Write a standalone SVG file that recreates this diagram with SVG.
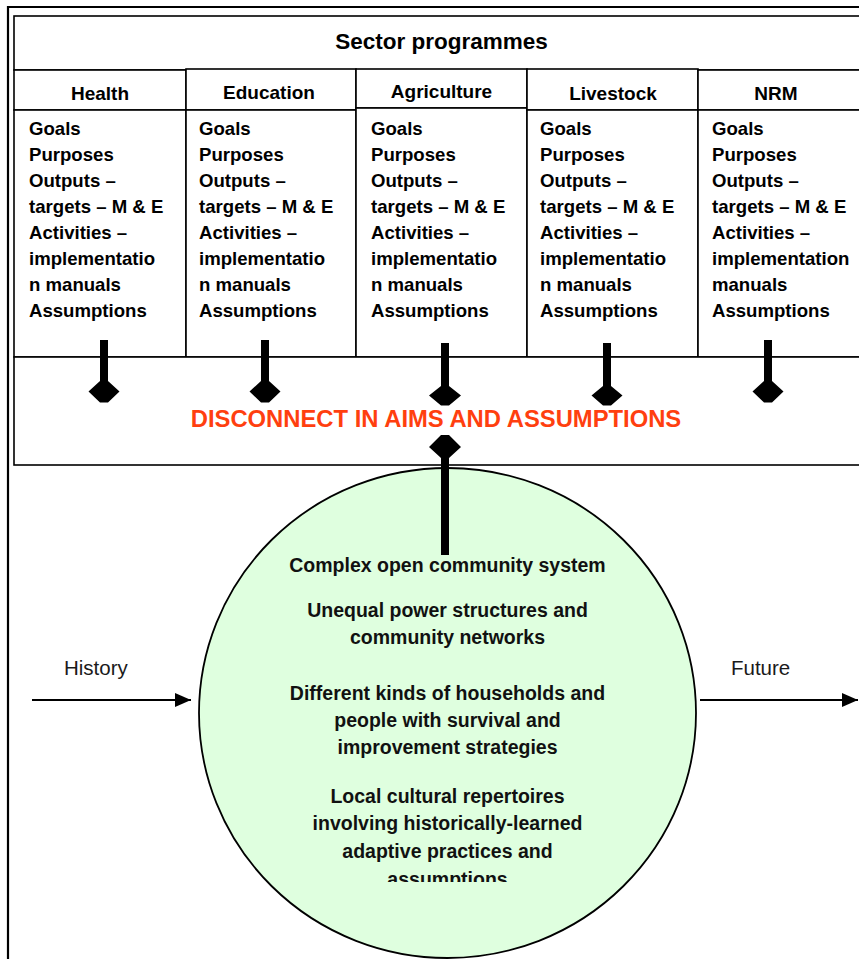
<svg xmlns="http://www.w3.org/2000/svg" width="859" height="959" viewBox="0 0 859 959">
  <style>
    .frame { fill: none; stroke: #000; stroke-width: 2.2; }
    .box { fill: #fff; stroke: #000; stroke-width: 1.6; }
    .t { font-family: "Liberation Sans", Arial, sans-serif; fill: #000; }
    .title { font-size: 22.5px; font-weight: bold; text-anchor: middle; }
    .head { font-size: 19px; font-weight: bold; text-anchor: middle; }
    .item { font-size: 18.6px; font-weight: bold; }
    .warn { font-size: 23.8px; font-weight: bold; fill: #FF3F0F; text-anchor: middle; }
    .core { font-size: 19.5px; font-weight: bold; fill: #111; text-anchor: middle; }
    .time { font-size: 20.5px; fill: #1a1a1a; }
    .pin { fill: #000; }
    .flow { stroke: #000; stroke-width: 2; fill: none; }
  </style>
  <defs>
    <marker id="tri2" viewBox="0 0 16 14" refX="16" refY="7" markerWidth="16" markerHeight="14" markerUnits="userSpaceOnUse" orient="auto">
      <path d="M0,0 L16,7 L0,14 z" fill="#000"/>
    </marker>
    <clipPath id="coreClip">
      <rect x="200" y="540" width="500" height="342"/>
    </clipPath>
  </defs>

  <rect width="859" height="959" fill="#fff"/>

  <!-- outer page frame -->
  <path class="frame" d="M8,959 V7 H859"/>

  <!-- title bar -->
  <g id="sector-programmes">
    <rect class="box" x="14" y="16" width="850" height="54"/>
    <text class="t title" x="441.5" y="49">Sector programmes</text>
  </g>

  <!-- sector columns -->
  <g id="health">
    <rect class="box" x="14" y="70" width="172" height="40"/>
    <rect class="box" x="14" y="110" width="172" height="247"/>
    <text class="t head" x="100" y="100">Health</text>
    <text class="t item" x="29" y="135">Goals</text>
    <text class="t item" x="29" y="161">Purposes</text>
    <text class="t item" x="29" y="187">Outputs –</text>
    <text class="t item" x="29" y="213">targets – M &amp; E</text>
    <text class="t item" x="29" y="239">Activities –</text>
    <text class="t item" x="29" y="265">implementatio</text>
    <text class="t item" x="29" y="291">n manuals</text>
    <text class="t item" x="29" y="317">Assumptions</text>
  </g>

  <g id="education">
    <rect class="box" x="186" y="69" width="170" height="41"/>
    <rect class="box" x="186" y="110" width="170" height="247"/>
    <text class="t head" x="269" y="99">Education</text>
    <text class="t item" x="199" y="135">Goals</text>
    <text class="t item" x="199" y="161">Purposes</text>
    <text class="t item" x="199" y="187">Outputs –</text>
    <text class="t item" x="199" y="213">targets – M &amp; E</text>
    <text class="t item" x="199" y="239">Activities –</text>
    <text class="t item" x="199" y="265">implementatio</text>
    <text class="t item" x="199" y="291">n manuals</text>
    <text class="t item" x="199" y="317">Assumptions</text>
  </g>

  <g id="agriculture">
    <rect class="box" x="356" y="69" width="171" height="39"/>
    <rect class="box" x="356" y="108" width="171" height="249"/>
    <text class="t head" x="441.5" y="98">Agriculture</text>
    <text class="t item" x="371" y="135">Goals</text>
    <text class="t item" x="371" y="161">Purposes</text>
    <text class="t item" x="371" y="187">Outputs –</text>
    <text class="t item" x="371" y="213">targets – M &amp; E</text>
    <text class="t item" x="371" y="239">Activities –</text>
    <text class="t item" x="371" y="265">implementatio</text>
    <text class="t item" x="371" y="291">n manuals</text>
    <text class="t item" x="371" y="317">Assumptions</text>
  </g>

  <g id="livestock">
    <rect class="box" x="527" y="69" width="171" height="41"/>
    <rect class="box" x="527" y="110" width="171" height="247"/>
    <text class="t head" x="613" y="100">Livestock</text>
    <text class="t item" x="540" y="135">Goals</text>
    <text class="t item" x="540" y="161">Purposes</text>
    <text class="t item" x="540" y="187">Outputs –</text>
    <text class="t item" x="540" y="213">targets – M &amp; E</text>
    <text class="t item" x="540" y="239">Activities –</text>
    <text class="t item" x="540" y="265">implementatio</text>
    <text class="t item" x="540" y="291">n manuals</text>
    <text class="t item" x="540" y="317">Assumptions</text>
  </g>

  <g id="nrm">
    <rect class="box" x="698" y="70" width="170" height="40"/>
    <rect class="box" x="698" y="110" width="170" height="247"/>
    <text class="t head" x="776" y="100">NRM</text>
    <text class="t item" x="712" y="135">Goals</text>
    <text class="t item" x="712" y="161">Purposes</text>
    <text class="t item" x="712" y="187">Outputs –</text>
    <text class="t item" x="712" y="213">targets – M &amp; E</text>
    <text class="t item" x="712" y="239">Activities –</text>
    <text class="t item" x="712" y="265">implementation</text>
    <text class="t item" x="712" y="291">manuals</text>
    <text class="t item" x="712" y="317">Assumptions</text>
  </g>

  <!-- disconnect band -->
  <g id="disconnect">
    <rect class="box" x="14" y="357" width="850" height="108"/>
    <text class="t warn" x="436" y="427">DISCONNECT IN AIMS AND ASSUMPTIONS</text>
  </g>

  <!-- community system -->
  <g id="community">
    <ellipse cx="447.5" cy="713" rx="248.5" ry="245" fill="#DFFFDF" stroke="#000" stroke-width="1.8"/>
    <g clip-path="url(#coreClip)">
      <text class="t core" x="447.5" y="572">Complex open community system</text>
      <text class="t core" x="447.5" y="617">Unequal power structures and</text>
      <text class="t core" x="447.5" y="644">community networks</text>
      <text class="t core" x="447.5" y="700">Different kinds of households and</text>
      <text class="t core" x="447.5" y="727">people with survival and</text>
      <text class="t core" x="447.5" y="754">improvement strategies</text>
      <text class="t core" x="447.5" y="803">Local cultural repertoires</text>
      <text class="t core" x="447.5" y="830">involving historically-learned</text>
      <text class="t core" x="447.5" y="858">adaptive practices and</text>
      <text class="t core" x="447.5" y="886">assumptions</text>
    </g>
  </g>

  <g id="history">
    <text class="t time" x="64" y="675">History</text>
  </g>
  <g id="future">
    <text class="t time" x="731" y="675">Future</text>
  </g>

  <!-- connectors -->
  <g id="connectors">
    <!-- sector to disconnect: bar ending in a diamond -->
    <path class="pin" d="M100,340 h8 v41 l11.5,10.5 l-11.5,11 h-8 l-11.5,-11 l11.5,-10.5 z"/>
    <path class="pin" d="M261,340 h8 v41 l11.5,10.5 l-11.5,11 h-8 l-11.5,-11 l11.5,-10.5 z"/>
    <path class="pin" d="M441,343 h8 v43 l12,9.5 l-12,10 h-8 l-12,-10 l12,-9.5 z"/>
    <path class="pin" d="M603,343 h8 v43 l11.5,9.5 l-11.5,10 h-8 l-11.5,-10 l11.5,-9.5 z"/>
    <path class="pin" d="M764,340 h8 v41 l11.5,10.5 l-11.5,11 h-8 l-11.5,-11 l11.5,-10.5 z"/>
    <!-- community to disconnect -->
    <path class="pin" d="M441,555 h8 v-97 l12,-11 l-12,-12 h-8 l-12,12 l12,11 z"/>
    <!-- time axis -->
    <line class="flow" x1="32" y1="700" x2="191" y2="700" marker-end="url(#tri2)"/>
    <line class="flow" x1="700" y1="700" x2="858" y2="700" marker-end="url(#tri2)"/>
  </g>
</svg>
